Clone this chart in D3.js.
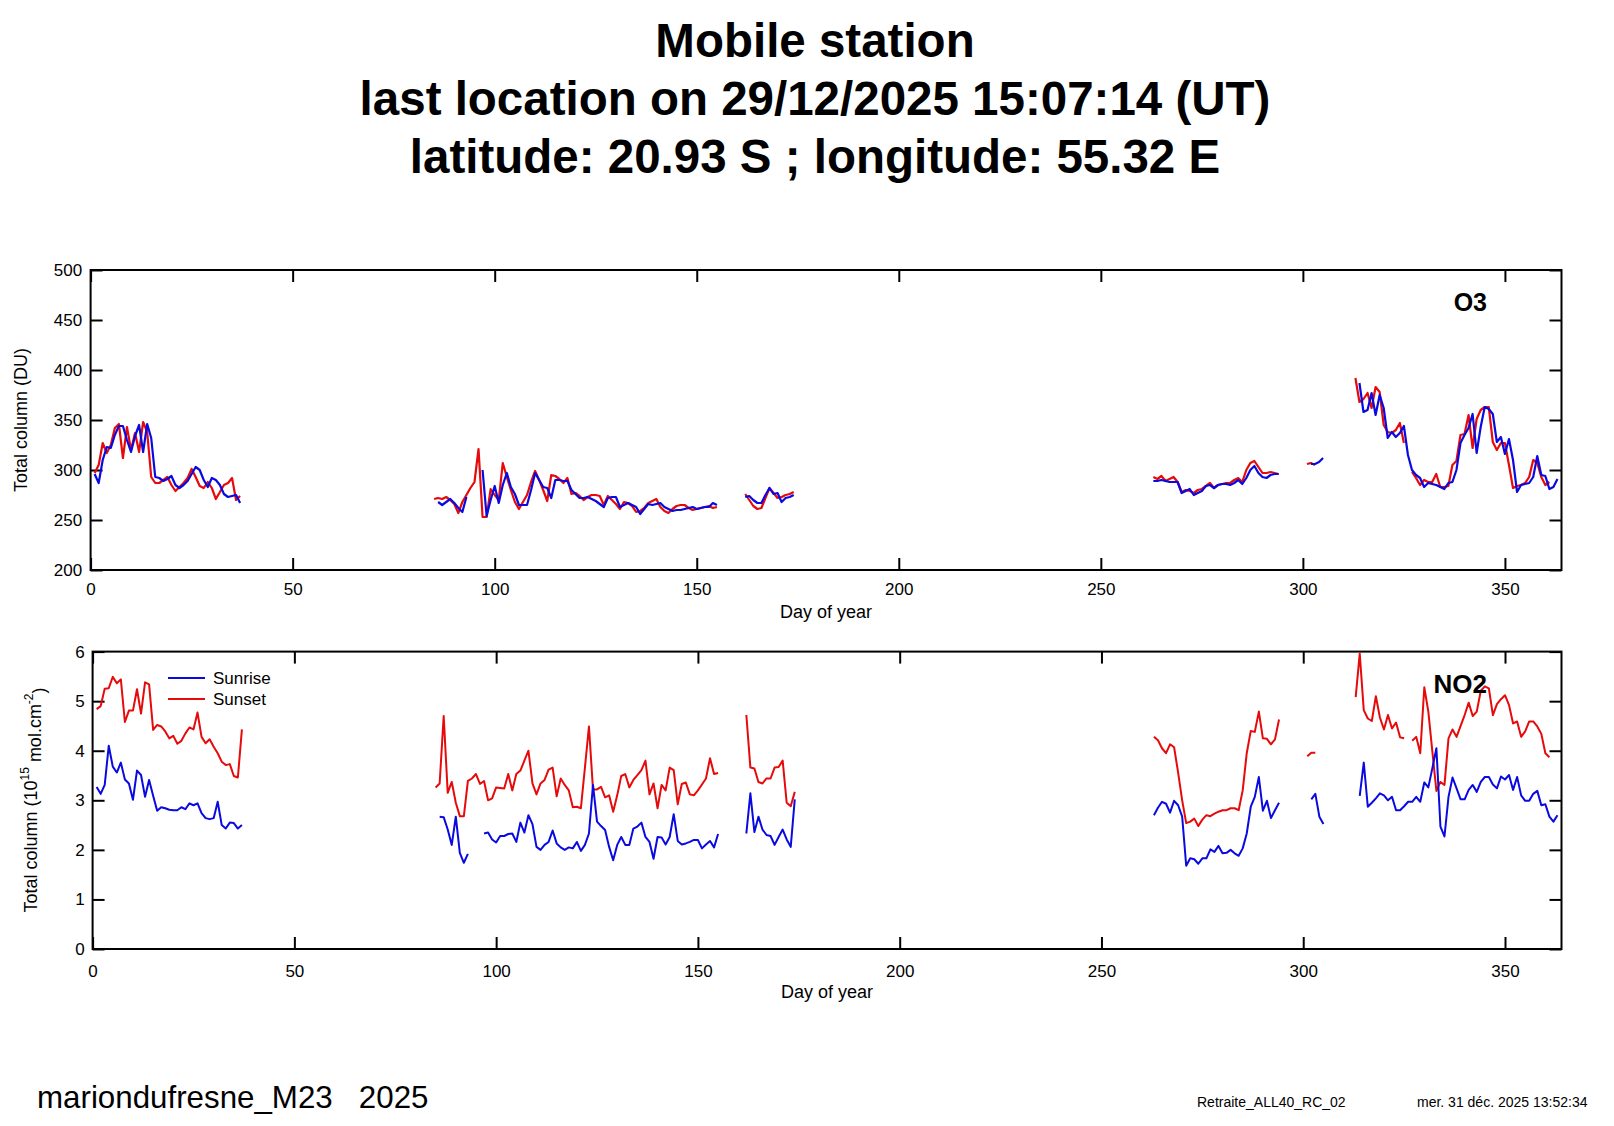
<!DOCTYPE html>
<html>
<head>
<meta charset="utf-8">
<script src="https://cdn.jsdelivr.net/npm/d3@7"></script>
<style>
  body { margin: 0; background: #fff; }
  svg text { font-family: "Liberation Sans", Arial, sans-serif; fill: #000; }
</style>
</head>
<body>
<div id="chart"></div>
<script>
// ---- data: [first day, daily values] per continuous segment ----
var xTicks = [0, 50, 100, 150, 200, 250, 300, 350];
var o3Ticks = [200, 250, 300, 350, 400, 450, 500];
var no2Ticks = [0, 1, 2, 3, 4, 5, 6];

var o3Sunset = [
  [1, [297,305,327,317,325,342,346,312,343,320,337,318,348,338,293,287,287,290,293,285,
       279,283,287,292,301,293,284,282,288,282,271,278,285,287,292,270,274]],
  [85, [271,272,271,273,270,266,257,268,275,282,
        288,321,253,253,281,275,270,307,293,280,
        268,261,268,275,288,299,290,280,269,295,
        294,291,287,292,276,277,274,270,273,275,
        275,274,265,274,270,266,261,268,267,264,
        258,259,262,267,269,271,263,259,257,261,
        264,265,265,262,260,261,262,263,264,262,
        263]],
  [162, [276,270,264,261,262,272,282,277,272,273,275,276,278]],
  [263, [293,291,294,289,291,293,288,278,280,279,277,280,281,284,287,282,
         285,286,287,287,290,292,288,300,307,309,303,297,297,298,297,296]],
  [301, [306,307,305]],
  [313, [392,368,371,377,362,383,378,345,338,337,340,347,327]],
  [327, [298,292,285,290,288,288,296,283,283,284,305,309,335,336,355,322,351,360,
         363,363,328,320,327,327,305,282,284,285,287,293,310,307,293,285,288]]
];

var o3Sunrise = [
  [1, [296,287,310,323,322,335,344,344,330,318,334,345,318,346,332,293,292,289,291,294,
       285,282,285,289,296,303,300,290,283,292,290,285,276,273,274,275,267]],
  [86, [268,265,268,271,267,262,258,273]],
  [97, [300,254,270,284,267,285,297,283,276,265,
        265,265,280,297,290,283,282,272,290,290,
        289,289,280,276,272,272,273,271,269,266,
        263,272,273,273,263,265,267,265,263,256,
        261,266,265,266,267,263,261,259,260,260,
        261,262,263,261,262,263,263,267,265]],
  [162, [273,274,270,267,267,275,282,276,277,268,272,273,275]],
  [263, [289,289,290,289,288,288,288,277,279,281,275,277,279,284,285,282,
         285,286,286,285,287,290,286,292,300,304,297,293,292,295,296,296]],
  [302, [306,306,308,312]],
  [314, [387,358,360,377,355,375,362,332,338,333,337,344,315,300,295,292,283,287,286,285,
         283,281,287,288,300,327,335,342,356,317,343,363,361,356,328,333,316,331,310,278,
         285,286,287,293,314,295,294,281,283,291]]
];

var no2Sunset = [
  [1, [4.84,4.90,5.25,5.26,5.49,5.36,5.44,4.58,4.81,4.81,5.24,4.75,5.38,5.34,4.42,4.52,
       4.49,4.39,4.25,4.30,4.14,4.20,4.35,4.47,4.43,4.77,4.28,4.15,4.23,4.08,3.95,3.78,
       3.71,3.73,3.49,3.46,4.43]],
  [85, [3.26,3.34,4.70,3.15,3.37,2.95,2.68,2.68,3.39,3.44,
        3.53,3.33,3.39,3.00,3.04,3.26,3.25,3.24,3.53,3.20,
        3.53,3.60,3.80,4.00,3.34,3.12,3.34,3.41,3.62,3.66,
        3.08,3.44,3.31,3.20,2.86,2.87,2.84,3.66,4.49,3.22,
        3.22,3.27,3.06,3.10,2.77,3.10,3.49,3.53,3.26,3.41,
        3.51,3.61,3.80,3.12,3.34,2.84,3.31,3.20,3.66,3.61,
        2.92,3.33,3.36,3.12,3.10,3.20,3.32,3.44,3.85,3.53,
        3.55]],
  [162, [4.72,3.66,3.64,3.37,3.34,3.44,3.44,3.66,3.67,3.80,2.95,2.88,3.17]],
  [263, [4.28,4.21,4.05,3.95,4.13,4.07,3.56,3.00,2.54,2.57,
         2.63,2.48,2.61,2.70,2.68,2.73,2.77,2.80,2.80,2.84,
         2.84,2.80,3.20,3.95,4.40,4.38,4.79,4.25,4.24,4.13,
         4.23,4.63]],
  [301, [3.89,3.96,3.96]],
  [313, [5.08,5.96,4.82,4.65,4.60,5.10,4.67,4.43,4.72,4.45,4.57,4.27,4.25]],
  [327, [4.20,4.28,3.95,5.28,4.79,3.98,3.19,3.37,3.31,4.25,
         4.43,4.28,4.50,4.72,4.97,4.70,4.79,5.21,5.30,5.26,
         4.72,4.94,5.04,5.12,4.92,4.55,4.59,4.28,4.39,4.59,
         4.59,4.49,4.34,3.95,3.87]]
];

var no2Sunrise = [
  [1, [3.27,3.13,3.31,4.10,3.68,3.56,3.76,3.42,3.34,3.01,3.60,3.51,3.07,3.41,3.09,2.79,
       2.86,2.84,2.81,2.80,2.80,2.86,2.82,2.94,2.90,2.94,2.74,2.64,2.62,2.64,2.97,2.50,
       2.43,2.55,2.54,2.43,2.50]],
  [86, [2.67,2.66,2.41,2.10,2.67,1.94,1.74,1.92]],
  [97, [2.33,2.35,2.21,2.15,2.28,2.28,2.32,2.33,2.16,2.55,
        2.35,2.70,2.52,2.06,2.00,2.10,2.16,2.39,2.13,2.05,
        2.00,2.05,2.03,2.16,1.98,2.10,2.33,3.31,2.57,2.48,
        2.40,2.06,1.79,2.10,2.26,2.10,2.10,2.43,2.47,2.55,
        2.26,2.16,1.82,2.26,2.25,2.11,2.26,2.72,2.18,2.11,
        2.13,2.16,2.20,2.20,2.03,2.11,2.18,2.05,2.32]],
  [162, [2.33,3.14,2.36,2.67,2.41,2.30,2.28,2.10,2.26,2.41,2.21,2.06,3.02]],
  [263, [2.70,2.85,2.97,2.93,2.75,2.99,2.90,2.67,1.68,1.83,
         1.81,1.72,1.83,1.83,2.01,1.96,2.08,1.93,1.94,2.00,
         1.93,1.88,2.03,2.33,2.87,3.07,3.47,2.79,2.99,2.64,
         2.80,2.95]],
  [302, [3.02,3.13,2.67,2.52]],
  [314, [3.09,3.76,2.87,2.95,3.04,3.14,3.10,3.00,3.07,2.80,
         2.80,2.88,2.97,2.97,3.07,2.97,3.36,3.26,3.65,4.05,
         2.47,2.27,3.07,3.46,3.24,3.02,3.02,3.21,3.31,3.17,
         3.37,3.47,3.47,3.32,3.24,3.48,3.42,3.51,3.21,3.47,
         3.10,2.99,2.99,3.13,3.19,2.90,2.92,2.67,2.57,2.70]]
];

var titleLines = [
  "Mobile station",
  "last location on 29/12/2025 15:07:14 (UT)",
  "latitude: 20.93 S ; longitude: 55.32 E"
];

var sunriseColor = "#0a0ae0";
var sunsetColor = "#e60a0a";

var svgWidth = 1614;
var svgHeight = 1126;

var svg = d3.select("#chart")
  .append("svg")
  .attr("width", svgWidth)
  .attr("height", svgHeight);

svg.append("rect").attr("width", svgWidth).attr("height", svgHeight).attr("fill", "#fff");

// title
svg.append("g").selectAll("text")
  .data(titleLines)
  .enter()
  .append("text")
  .attr("x", 815)
  .attr("y", (d, i) => 57 + i * 58)
  .attr("text-anchor", "middle")
  .style("font-size", "47.5px")
  .style("font-weight", "bold")
  .text(d => d);

// segments -> points, with a null point between segments so the line breaks
function toPoints(segments) {
  var pts = [];
  segments.forEach(function(seg) {
    seg[1].forEach(function(v, i) {
      pts.push({ day: seg[0] + i, value: v });
    });
    pts.push({ day: null, value: null });
  });
  return pts;
}

function drawPanel(p) {
  var x = d3.scaleLinear().domain([0, 364]).range([p.left, p.right]);
  var y = d3.scaleLinear().domain([p.ticks[0], p.ticks[p.ticks.length - 1]]).range([p.bottom, p.top]);
  var g = svg.append("g");

  var bottomAxis = d3.axisBottom(x).tickValues(xTicks).tickSizeInner(-12).tickSizeOuter(0).tickPadding(p.xPad);
  var topAxis = d3.axisTop(x).tickValues(xTicks).tickSizeInner(-12).tickSizeOuter(0).tickFormat("");
  var leftAxis = d3.axisLeft(y).tickValues(p.ticks).tickFormat(d3.format("d"))
    .tickSizeInner(-12).tickSizeOuter(0).tickPadding(p.yPad);
  var rightAxis = d3.axisRight(y).tickValues(p.ticks).tickSizeInner(-12).tickSizeOuter(0).tickFormat("");

  var axes = [
    g.append("g").attr("transform", `translate(0, ${p.bottom})`).call(bottomAxis),
    g.append("g").attr("transform", `translate(0, ${p.top})`).call(topAxis),
    g.append("g").attr("transform", `translate(${p.left}, 0)`).call(leftAxis),
    g.append("g").attr("transform", `translate(${p.right}, 0)`).call(rightAxis)
  ];
  axes.forEach(function(a) {
    a.select(".domain").remove();
    a.selectAll(".tick line").attr("stroke", "#000").attr("stroke-width", 2);
    a.selectAll(".tick text")
      .style("font-size", "17px")
      .style("font-family", "'Liberation Sans', Arial, sans-serif");
  });

  // frame
  g.append("rect")
    .attr("x", p.left).attr("y", p.top)
    .attr("width", p.right - p.left).attr("height", p.bottom - p.top)
    .attr("fill", "none").attr("stroke", "#000").attr("stroke-width", 2);

  // series lines
  var line = d3.line()
    .defined(d => d.value !== null)
    .x(d => x(d.day))
    .y(d => y(d.value));

  p.series.forEach(function(s) {
    g.append("path")
      .datum(toPoints(s.data))
      .attr("fill", "none")
      .attr("stroke", s.color)
      .attr("stroke-width", p.lineWidth)
      .attr("stroke-linejoin", "round")
      .attr("d", line);
  });

  // x axis title
  g.append("text")
    .attr("x", (p.left + p.right) / 2)
    .attr("y", p.xTitleY)
    .attr("text-anchor", "middle")
    .style("font-size", "18px")
    .text("Day of year");

  // species label
  g.append("text")
    .attr("x", 1487)
    .attr("y", p.labelY)
    .attr("text-anchor", "end")
    .style("font-size", p.labelSize + "px")
    .style("font-weight", "bold")
    .text(p.label);

  return g;
}

var o3Panel = drawPanel({
  left: 90.6, right: 1561.5, top: 270, bottom: 570,
  ticks: o3Ticks, xPad: 13, yPad: 8.5, xTitleY: 618,
  label: "O3", labelY: 311, labelSize: 25, lineWidth: 2.2,
  series: [
    { data: o3Sunset, color: sunsetColor },
    { data: o3Sunrise, color: sunriseColor }
  ]
});

o3Panel.append("text")
  .attr("transform", "translate(27, 420) rotate(-90)")
  .attr("text-anchor", "middle")
  .style("font-size", "18px")
  .text("Total column (DU)");

var no2Panel = drawPanel({
  left: 92.6, right: 1561.5, top: 651.6, bottom: 949,
  ticks: no2Ticks, xPad: 16, yPad: 8, xTitleY: 998,
  label: "NO2", labelY: 693, labelSize: 26, lineWidth: 2,
  series: [
    { data: no2Sunset, color: sunsetColor },
    { data: no2Sunrise, color: sunriseColor }
  ]
});

var no2Title = no2Panel.append("text")
  .attr("transform", "translate(37, 800) rotate(-90)")
  .attr("text-anchor", "middle")
  .style("font-size", "18px");
no2Title.append("tspan").text("Total column (10");
no2Title.append("tspan").attr("dy", "-0.65em").style("font-size", "12px").text("15");
no2Title.append("tspan").attr("dy", "0.65em").text(" mol.cm");
no2Title.append("tspan").attr("dy", "-0.65em").style("font-size", "12px").text("-2");
no2Title.append("tspan").attr("dy", "0.65em").text(")");

// legend
var legendItems = [
  { name: "Sunrise", color: sunriseColor },
  { name: "Sunset", color: sunsetColor }
];
var legend = no2Panel.append("g").selectAll("g")
  .data(legendItems)
  .enter()
  .append("g")
  .attr("transform", (d, i) => `translate(168, ${678 + i * 21})`);
legend.append("line")
  .attr("x1", 0).attr("x2", 37)
  .attr("stroke", d => d.color).attr("stroke-width", 2);
legend.append("text")
  .attr("x", 45).attr("dy", "0.35em")
  .style("font-size", "17px")
  .text(d => d.name);

// footer
svg.append("text")
  .attr("x", 37).attr("y", 1108)
  .style("font-size", "31.3px")
  .style("white-space", "pre")
  .text("mariondufresne_M23   2025");

svg.append("text")
  .attr("x", 1197).attr("y", 1107)
  .style("font-size", "14px")
  .text("Retraite_ALL40_RC_02");

svg.append("text")
  .attr("x", 1417).attr("y", 1107)
  .style("font-size", "14px")
  .text("mer. 31 déc. 2025 13:52:34");
</script>
</body>
</html>
